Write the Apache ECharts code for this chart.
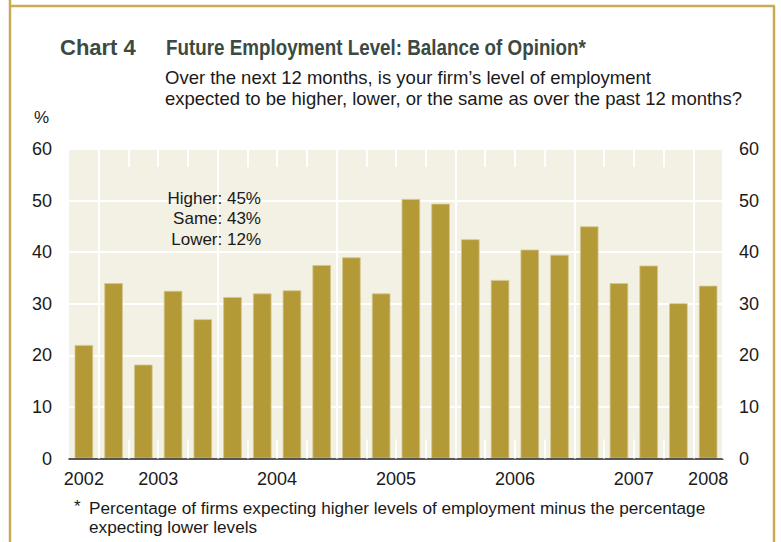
<!DOCTYPE html>
<html><head><meta charset="utf-8">
<script src="https://cdn.jsdelivr.net/npm/echarts@6/dist/echarts.min.js"></script>
<style>html,body{margin:0;padding:0;background:#fff}#c{width:781px;height:542px}</style>
</head><body><div id="c"></div>
<script>
const quarters = ['2002Q4','2003Q1','2003Q2','2003Q3','2003Q4','2004Q1','2004Q2','2004Q3','2004Q4','2005Q1','2005Q2','2005Q3','2005Q4','2006Q1','2006Q2','2006Q3','2006Q4','2007Q1','2007Q2','2007Q3','2007Q4','2008Q1'];
const balance = [22, 34, 18.2, 32.5, 27, 31.3, 32, 32.6, 37.5, 39, 32, 50.3, 49.4, 42.5, 34.6, 40.5, 39.5, 45, 34, 37.4, 30.1, 33.5];
const yearLabels = ['2002','2003','2004','2005','2006','2007','2008'];
const yearLabelPos = [0, 2.5, 6.5, 10.5, 14.5, 18.5, 21];
const yTicks = [0, 10, 20, 30, 40, 50, 60];
const noteLines = ['Higher: 45%', 'Same: 43%', 'Lower: 12%'];

const chart = echarts.init(document.getElementById('c'), null, {renderer: 'svg'});
const gold = '#c9ab57';
const isYearStart = i => i > 0 && (i - 1) % 4 === 0;
const titleFont = 'bold 22px "Liberation Sans", Arial, sans-serif';
chart.setOption({
  animation: false,
  textStyle: {fontFamily: 'Liberation Sans, Arial, sans-serif'},
  title: [
    {text: 'Over the next 12 months, is your firm\u2019s level of employment\nexpected to be higher, lower, or the same as over the past 12 months?', left: 165, top: 67, padding: 0, textStyle: {fontFamily: 'Liberation Sans, sans-serif', fontWeight: 'normal', fontSize: 18.5, lineHeight: 21, color: '#1a1a1a'}},
    {text: '%', left: 34, top: 109, padding: 0, textStyle: {fontWeight: 'normal', fontSize: 17, color: '#1a1a1a'}},
    {text: '*', left: 74, top: 498, padding: 0, textStyle: {fontWeight: 'normal', fontSize: 17, color: '#1a1a1a'}},
    {text: 'Percentage of firms expecting higher levels of employment minus the percentage\nexpecting lower levels', left: 89, top: 498, padding: 0, textStyle: {fontWeight: 'normal', fontSize: 17.2, lineHeight: 19.5, color: '#1a1a1a'}}
  ],
  grid: {left: 69, right: 58, top: 149, bottom: 83.5, show: true, backgroundColor: '#f3f0e4', borderWidth: 0},
  xAxis: [
    {type: 'category', data: quarters, position: 'bottom', boundaryGap: true,
     axisLine: {show: true, onZero: false, lineStyle: {color: '#222', width: 1.5}},
     axisTick: {show: true, inside: true, length: 19, lineStyle: {color: '#fff', width: 2}, interval: (i) => i > 0},
     axisLabel: {show: false},
     splitLine: {show: true, interval: (i) => isYearStart(i), lineStyle: {color: '#fff', width: 2}},
     z: 5},
    {type: 'category', data: quarters, position: 'top', boundaryGap: true,
     axisLine: {show: false, onZero: false},
     axisTick: {show: true, inside: true, length: 18, lineStyle: {color: '#fff', width: 2}, interval: (i) => i > 0},
     axisLabel: {show: false}, splitLine: {show: false}, z: 5},
    {type: 'value', position: 'bottom', min: -0.5, max: 21.5,
     axisLine: {show: false, onZero: false}, axisTick: {show: false}, splitLine: {show: false},
     axisLabel: {show: true, customValues: yearLabelPos, margin: 11, fontSize: 18, color: '#1a1a1a',
       formatter: (v) => { const k = yearLabelPos.indexOf(v); return k >= 0 ? yearLabels[k] : ''; }}}
  ],
  yAxis: [
    {type: 'value', min: yTicks[0], max: yTicks[yTicks.length - 1], interval: 10, position: 'left',
     axisLine: {show: false}, axisTick: {show: false},
     axisLabel: {margin: 17, fontSize: 18, color: '#1a1a1a'},
     splitLine: {show: true, lineStyle: {color: '#fff', width: 2}}},
    {type: 'value', min: yTicks[0], max: yTicks[yTicks.length - 1], interval: 10, position: 'right',
     axisLine: {show: false}, axisTick: {show: false},
     axisLabel: {margin: 16, fontSize: 18, color: '#1a1a1a'},
     splitLine: {show: false}}
  ],
  graphic: [
    {type: 'line', shape: {x1: 10, y1: 0, x2: 10, y2: 542}, style: {stroke: gold, lineWidth: 2.5}},
    {type: 'line', shape: {x1: 10, y1: 6, x2: 775, y2: 6}, style: {stroke: gold, lineWidth: 2.5}},
    {type: 'line', shape: {x1: 774, y1: 6, x2: 774, y2: 542}, style: {stroke: gold, lineWidth: 2.5}},
    {type: 'text', x: 60, y: 47, scaleX: 1.0,
     style: {text: 'Chart 4', align: 'left', verticalAlign: 'middle', font: titleFont, fill: '#3b4a43'}},
    {type: 'text', x: 166, y: 47, scaleX: 0.855,
     style: {text: 'Future Employment Level: Balance of Opinion*', align: 'left', verticalAlign: 'middle', font: titleFont, fill: '#3b4a43'}}
  ].concat(noteLines.map((t, k) => ({
      type: 'text', x: 261, y: 198 + k * 20.5, z: 20,
      style: {text: t, align: 'right', verticalAlign: 'middle', font: '17px "Liberation Sans", Arial, sans-serif', fill: '#1a1a1a'}
  }))),
  series: [{
    type: 'bar', xAxisIndex: 0, yAxisIndex: 0, data: balance, barWidth: 18.5,
    itemStyle: {color: '#b39a37', borderColor: '#d3c68f', borderWidth: 0.8},
    z: 3
  }]
});
</script></body></html>
